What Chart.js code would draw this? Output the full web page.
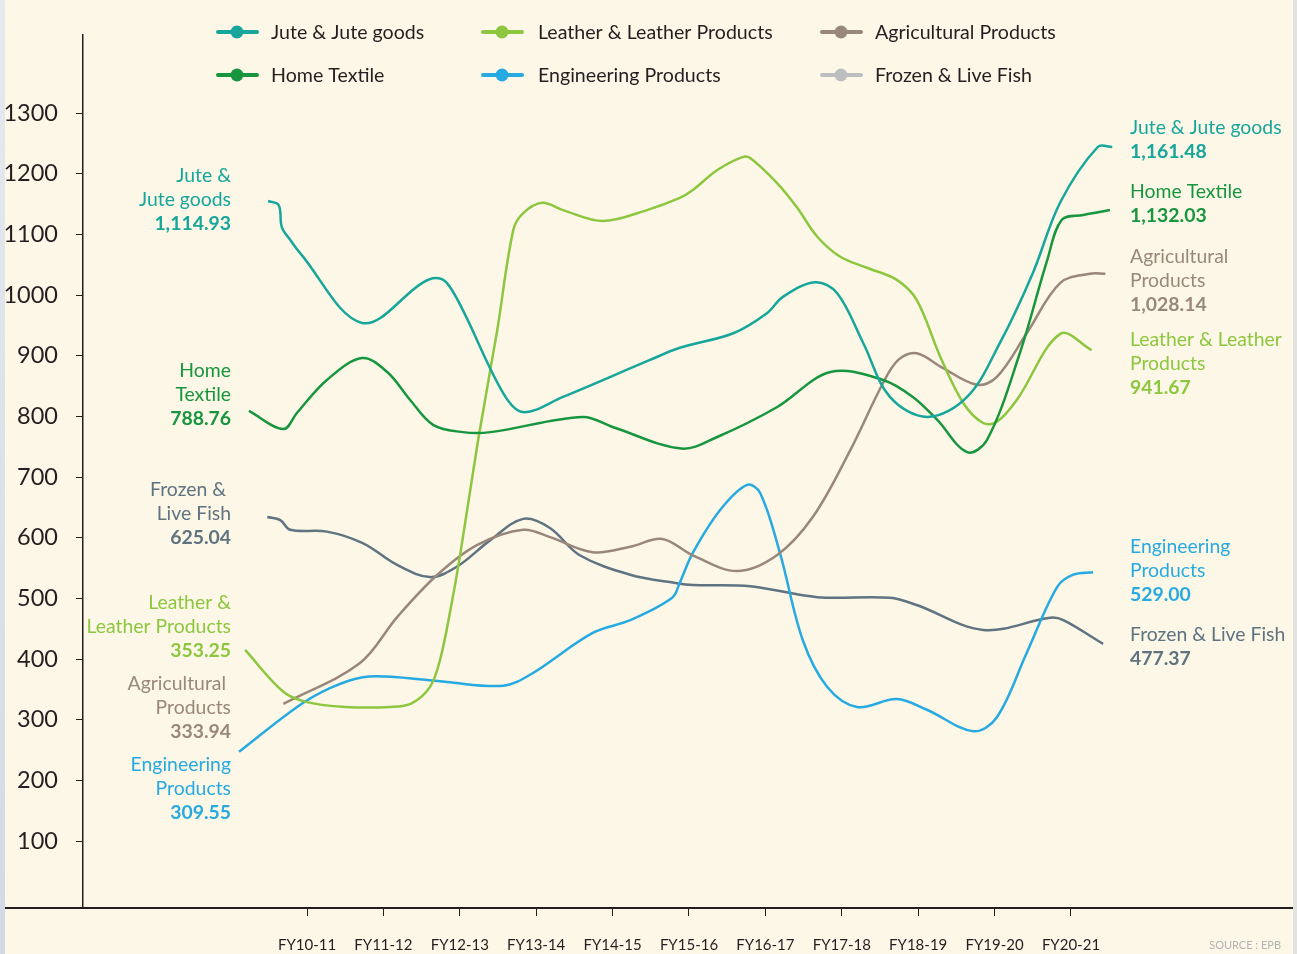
<!DOCTYPE html>
<html><head><meta charset="utf-8">
<script src="https://cdn.jsdelivr.net/npm/chart.js@4/dist/chart.umd.min.js"></script>
<style>
html,body{margin:0;padding:0;background:#fcf7e6;}
body{width:1297px;height:954px;overflow:hidden;position:relative;}
#wrap{position:absolute;left:0;top:0;width:1297px;height:954px;}
.edgeL{position:absolute;left:0;top:0;width:5px;height:954px;background:linear-gradient(#e6eaef,#d3dae4);z-index:2;}
.edgeR{position:absolute;right:0;top:0;width:4px;height:954px;background:#e2e2e0;z-index:2;}
</style></head><body>
<div id="wrap"><canvas id="c" width="1297" height="954"></canvas></div>
<div class="edgeL"></div><div class="edgeR"></div>
<script>
// ---- categories / tick labels ----
const fyLabels = ['FY10-11','FY11-12','FY12-13','FY13-14','FY14-15','FY15-16','FY16-17','FY17-18','FY18-19','FY19-20','FY20-21'];
const yTicks = [100,200,300,400,500,600,700,800,900,1000,1100,1200,1300];

// ---- series (x = fiscal-year position, y = value) ----
const juteX = [-0.51,-0.37,-0.33,-0.22,-0.09,0.72,1.51,1.68,1.83,2.04,2.57,2.83,3.35,4.49,4.88,5.58,6.02,6.23,6.65,6.94,7.28,7.63,8.12,8.64,9.07,9.50,9.86,10.35,10.54];
const juteY = [1155,1148,1112,1091,1069,954,1020,1028,1020,975,838,807,832,893,913,937,970,997,1021,1003,921,832,799,832,921,1036,1153,1244,1244];

const homeX = [-0.76,-0.31,-0.13,0.26,0.72,1.05,1.35,1.65,2.04,2.40,3.61,4.01,4.90,5.37,6.15,6.85,7.54,7.93,8.25,8.64,8.90,9.33,9.69,9.88,10.16,10.51];
const homeY = [809,779,806,860,896,873,827,786,774,774,799,782,747,766,815,873,860,832,794,741,761,904,1058,1124,1132,1140];

const leatherX = [-0.81,-0.31,0.00,0.50,1.09,1.37,1.61,1.74,1.87,2.00,2.24,2.49,2.70,2.83,3.08,3.35,3.87,4.45,4.88,5.05,5.37,5.69,5.80,6.15,6.41,6.68,6.98,7.33,7.72,7.98,8.29,8.59,8.85,9.03,9.29,9.86,10.27];
const leatherY = [415,346,329,321,321,327,354,398,476,568,761,942,1107,1135,1152,1140,1122,1140,1160,1173,1206,1227,1226,1185,1145,1096,1063,1045,1025,992,898,822,789,791,827,936,909];

const agriX = [-0.31,0.69,1.18,1.70,2.23,2.83,3.18,3.74,4.23,4.65,5.05,5.63,6.15,6.62,7.11,7.54,7.74,7.98,8.32,8.77,9.03,9.42,9.86,10.25,10.45];
const agriY = [326,393,469,538,588,613,601,576,585,598,571,545,571,634,744,855,893,904,880,852,865,937,1020,1035,1035];

const engX = [-0.89,-0.13,0.30,0.73,1.18,1.83,2.57,2.92,3.74,4.23,4.78,4.88,5.05,5.41,5.76,5.93,6.19,6.49,6.81,7.20,7.72,8.12,8.72,9.03,9.42,9.82,10.03,10.29];
const engY = [247,321,352,370,370,362,356,374,443,464,501,526,575,646,687,674,575,431,354,321,334,316,281,304,410,519,539,543];

const fishX = [-0.52,-0.35,-0.22,0.26,0.73,1.18,1.61,1.96,2.40,2.83,3.18,3.57,4.23,4.84,5.05,5.80,6.68,7.63,7.98,8.85,9.73,9.90,10.42];
const fishY = [634,629,613,610,591,555,535,552,596,631,616,571,539,525,522,520,502,501,489,448,468,464,425];

// ---- labels shown at the start and end of each series ----
const seriesNames  = ['Jute & Jute goods','Leather & Leather Products','Agricultural Products','Home Textile','Engineering Products','Frozen & Live Fish'];
const startValues  = ['1,114.93','353.25','333.94','788.76','309.55','625.04'];
const endValues    = ['1,161.48','941.67','1,028.14','1,132.03','529.00','477.37'];

// ---- styles ----
const colors = {
  jute:'#17a69b', leather:'#8dc63f', agri:'#9a877b', home:'#17963f', eng:'#27aae1', fish:'#5f7381'
};
const legendSwatch = ['#17a69b','#8dc63f','#9a877b','#17963f','#27aae1','#bcbec0'];
const FONT = 'Lato, "Open Sans", sans-serif';

function pts(xs, ys){ return xs.map((x,i)=>({x:x, y:ys[i]})); }

// left / right annotation layout (pixel anchors)
const leftNotes = [
  {lines:['Jute &','Jute goods'], v:startValues[0], c:colors.jute, y:176},
  {lines:['Home','Textile'], v:startValues[3], c:colors.home, y:371},
  {lines:['Frozen & ','Live Fish'], v:startValues[5], c:colors.fish, y:490},
  {lines:['Leather &','Leather Products'], v:startValues[1], c:colors.leather, y:603},
  {lines:['Agricultural ','Products'], v:startValues[2], c:colors.agri, y:684},
  {lines:['Engineering','Products'], v:startValues[4], c:colors.eng, y:765}
];
const rightNotes = [
  {lines:['Jute & Jute goods'], v:endValues[0], c:colors.jute, y:128},
  {lines:['Home Textile'], v:endValues[3], c:colors.home, y:192},
  {lines:['Agricultural','Products'], v:endValues[2], c:colors.agri, y:257},
  {lines:['Leather & Leather','Products'], v:endValues[1], c:colors.leather, y:340},
  {lines:['Engineering','Products'], v:endValues[4], c:colors.eng, y:547},
  {lines:['Frozen & Live Fish'], v:endValues[5], c:colors.fish, y:635}
];

const annotPlugin = {
  id:'annot',
  afterDraw(chart){
    const ctx = chart.ctx;
    ctx.save();
    // extend x baseline to the left edge
    ctx.strokeStyle = '#231f20'; ctx.lineWidth = 2;
    ctx.beginPath(); ctx.moveTo(5, chart.chartArea.bottom); ctx.lineTo(chart.chartArea.left, chart.chartArea.bottom); ctx.stroke();
    ctx.textBaseline = 'middle';
    const lh = 24;
    leftNotes.forEach(n=>{
      ctx.fillStyle = n.c; ctx.textAlign = 'right';
      ctx.font = '19.4px ' + FONT;
      n.lines.forEach((l,i)=>ctx.fillText(l, 231, n.y + i*lh));
      ctx.font = 'bold 19.4px ' + FONT;
      ctx.fillText(n.v, 231, n.y + n.lines.length*lh);
    });
    rightNotes.forEach(n=>{
      ctx.fillStyle = n.c; ctx.textAlign = 'left';
      ctx.font = '19.4px ' + FONT;
      n.lines.forEach((l,i)=>ctx.fillText(l, 1130, n.y + i*lh));
      ctx.font = 'bold 19.4px ' + FONT;
      ctx.fillText(n.v, 1130, n.y + n.lines.length*lh);
    });
    // legend
    const cols = [217, 482, 821], rows = [32, 75];
    seriesNames.forEach((name,i)=>{
      const cx = cols[i%3], cy = rows[Math.floor(i/3)];
      ctx.strokeStyle = legendSwatch[i]; ctx.fillStyle = legendSwatch[i];
      ctx.lineWidth = 4; ctx.lineCap = 'round';
      ctx.beginPath(); ctx.moveTo(cx+1, cy); ctx.lineTo(cx+40, cy); ctx.stroke();
      ctx.beginPath(); ctx.arc(cx+20, cy, 6.5, 0, Math.PI*2); ctx.fill();
      ctx.fillStyle = '#231f20'; ctx.textAlign='left'; ctx.font = '19.6px ' + FONT;
      ctx.fillText(name, cx + (i%3===1 ? 56 : 54), cy+1);
    });
    // source
    ctx.fillStyle = '#b3b3b3'; ctx.font = '11px ' + FONT; ctx.textAlign='right';
    ctx.fillText('SOURCE : EPB', 1281, 945);
    ctx.restore();
  }
};

const ds = (label, xs, ys, c) => ({label, data:pts(xs,ys), borderColor:c, backgroundColor:c, borderWidth:2.5, pointRadius:0, tension:0.35, fill:false});

new Chart(document.getElementById('c'), {
  type:'line',
  data:{datasets:[
    ds('Jute & Jute goods', juteX, juteY, colors.jute),
    ds('Home Textile', homeX, homeY, colors.home),
    ds('Leather & Leather Products', leatherX, leatherY, colors.leather),
    ds('Agricultural Products', agriX, agriY, colors.agri),
    ds('Engineering Products', engX, engY, colors.eng),
    ds('Frozen & Live Fish', fishX, fishY, colors.fish)
  ]},
  options:{
    responsive:false, animation:false, devicePixelRatio:1,
    layout:{padding:{top:35, right:4, left:0, bottom:0}},
    plugins:{legend:{display:false}, tooltip:{enabled:false}},
    scales:{
      x:{type:'linear', min:-2.932, max:12.906,
        afterBuildTicks:s=>{ s.ticks = fyLabels.map((l,i)=>({value:i})); },
        afterFit:s=>{ s.height = 46; },
        ticks:{callback:v=>fyLabels[v], autoSkip:false, maxRotation:0, padding:20, color:'#231f20', font:{family:FONT, size:15}},
        grid:{drawOnChartArea:false, drawTicks:true, tickLength:8, color:'#231f20', lineWidth:1},
        border:{display:true, color:'#231f20', width:2}
      },
      y:{min:-10.4, max:1428.6,
        afterBuildTicks:s=>{ s.ticks = yTicks.map(v=>({value:v})); },
        afterFit:s=>{ s.width = 83; },
        ticks:{callback:v=>String(v), padding:18, color:'#231f20', font:{family:FONT, size:23.5}},
        grid:{drawOnChartArea:false, drawTicks:true, tickLength:7, color:'#231f20', lineWidth:1},
        border:{display:true, color:'#231f20', width:1.5}
      }
    }
  },
  plugins:[annotPlugin]
});
</script>
</body></html>
